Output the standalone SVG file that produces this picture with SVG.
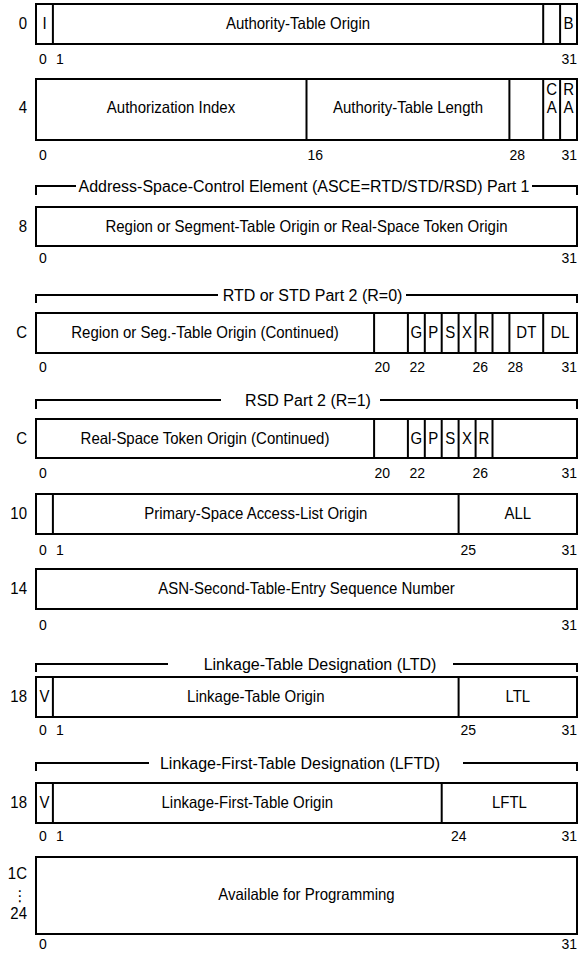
<svg xmlns="http://www.w3.org/2000/svg" width="579" height="956" viewBox="0 0 579 956">
<style>
.box{fill:#fff;stroke:#000;stroke-width:2}
.div{stroke:#000;stroke-width:2}
.br{fill:none;stroke:#000;stroke-width:2}
text{font-family:"Liberation Sans",Arial,sans-serif;fill:#000}
.f{font-size:16.3px;text-anchor:middle;transform-box:fill-box;transform-origin:50% 50%;transform:scaleX(0.92)}
.lab{font-size:16.3px;text-anchor:end;transform-box:fill-box;transform-origin:100% 50%;transform:scaleX(0.92)}
.t{font-size:16px;text-anchor:middle}
.n{font-size:14px}
.ne{font-size:14px;text-anchor:end}
.dots{font-family:"DejaVu Sans",sans-serif;font-size:15px;text-anchor:middle}
</style>
<rect width="579" height="956" fill="#fff"/>
<g id="connectors">
<path class="br" d="M36,195 V186 H76 M532,186 H577 V195"/>
<path class="br" d="M36,303 V295 H218 M406,295 H577 V303"/>
<path class="br" d="M36,409 V400 H221 M380,400 H577 V409"/>
<path class="br" d="M36,672 V664 H168 M453,664 H577 V672"/>
<path class="br" d="M36,771 V763 H149 M463,763 H577 V771"/>
</g>
<g id="row0">
<rect class="box" x="36" y="4" width="541" height="40"/>
<path class="div" d="M52.9,4V44 M543.2,4V44 M560.1,4V44"/>
<text class="lab" x="27" y="29">0</text>
<text class="f" x="44.5" y="29">I</text>
<text class="f" x="298" y="29">Authority-Table Origin</text>
<text class="f" x="568.6" y="29">B</text>
<text class="n" x="39" y="64">0</text><text class="n" x="56" y="64">1</text><text class="ne" x="577" y="64">31</text>
</g>
<g id="row4">
<rect class="box" x="36" y="79" width="541" height="61"/>
<path class="div" d="M306.5,79V140 M509.4,79V140 M543.2,79V140 M560.1,79V140"/>
<text class="lab" x="27" y="113">4</text>
<text class="f" x="171" y="113">Authorization Index</text>
<text class="f" x="408" y="113">Authority-Table Length</text>
<text class="f" x="551.7" y="95">C</text><text class="f" x="551.7" y="113">A</text>
<text class="f" x="568.6" y="95">R</text><text class="f" x="568.6" y="113">A</text>
<text class="n" x="39" y="160">0</text><text class="n" x="307.5" y="160">16</text><text class="n" x="509.5" y="160">28</text><text class="ne" x="577" y="160">31</text>
</g>
<g id="asce">
<text class="t" x="304" y="191.5" textLength="451" lengthAdjust="spacingAndGlyphs">Address-Space-Control Element (ASCE=RTD/STD/RSD) Part 1</text>
</g>
<g id="row8">
<rect class="box" x="36" y="207" width="541" height="39"/>
<text class="lab" x="27" y="232.5">8</text>
<text class="f" x="306.5" y="232.5">Region or Segment-Table Origin or Real-Space Token Origin</text>
<text class="n" x="39" y="263">0</text><text class="ne" x="577" y="263">31</text>
</g>
<g id="rtd">
<text class="t" x="312.5" y="300.5">RTD or STD Part 2 (R=0)</text>
</g>
<g id="rowC1">
<rect class="box" x="36" y="313" width="541" height="40"/>
<path class="div" d="M374.1,313V353 M407.9,313V353 M424.8,313V353 M441.7,313V353 M458.6,313V353 M475.6,313V353 M492.5,313V353 M509.4,313V353 M543.2,313V353"/>
<text class="lab" x="27" y="338">C</text>
<text class="f" x="205" y="338">Region or Seg.-Table Origin (Continued)</text>
<text class="f" x="416.4" y="338">G</text><text class="f" x="433.3" y="338">P</text><text class="f" x="450.2" y="338">S</text><text class="f" x="467.1" y="338">X</text><text class="f" x="484" y="338">R</text>
<text class="f" x="526.3" y="338">DT</text><text class="f" x="560.1" y="338">DL</text>
<text class="n" x="39" y="372">0</text><text class="n" x="374.5" y="372">20</text><text class="n" x="409.5" y="372">22</text><text class="n" x="472.5" y="372">26</text><text class="n" x="507.5" y="372">28</text><text class="ne" x="577" y="372">31</text>
</g>
<g id="rsd">
<text class="t" x="308" y="405.5">RSD Part 2 (R=1)</text>
</g>
<g id="rowC2">
<rect class="box" x="36" y="419" width="541" height="39"/>
<path class="div" d="M374.1,419V458 M407.9,419V458 M424.8,419V458 M441.7,419V458 M458.6,419V458 M475.6,419V458 M492.5,419V458"/>
<text class="lab" x="27" y="444">C</text>
<text class="f" x="205" y="444">Real-Space Token Origin (Continued)</text>
<text class="f" x="416.4" y="444">G</text><text class="f" x="433.3" y="444">P</text><text class="f" x="450.2" y="444">S</text><text class="f" x="467.1" y="444">X</text><text class="f" x="484" y="444">R</text>
<text class="n" x="39" y="478">0</text><text class="n" x="374.5" y="478">20</text><text class="n" x="409.5" y="478">22</text><text class="n" x="472.5" y="478">26</text><text class="ne" x="577" y="478">31</text>
</g>
<g id="row10">
<rect class="box" x="36" y="494" width="541" height="40"/>
<path class="div" d="M52.9,494V534 M458.6,494V534"/>
<text class="lab" x="27" y="519.5">10</text>
<text class="f" x="255.8" y="519.5">Primary-Space Access-List Origin</text>
<text class="f" x="517.8" y="519.5">ALL</text>
<text class="n" x="39" y="555">0</text><text class="n" x="56" y="555">1</text><text class="n" x="460.5" y="555">25</text><text class="ne" x="577" y="555">31</text>
</g>
<g id="row14">
<rect class="box" x="36" y="569" width="541" height="40"/>
<text class="lab" x="27" y="594.5">14</text>
<text class="f" x="306.5" y="594.5">ASN-Second-Table-Entry Sequence Number</text>
<text class="n" x="39" y="630">0</text><text class="ne" x="577" y="630">31</text>
</g>
<g id="ltd">
<text class="t" x="320" y="669.5">Linkage-Table Designation (LTD)</text>
</g>
<g id="row18a">
<rect class="box" x="36" y="677" width="541" height="40"/>
<path class="div" d="M52.9,677V717 M458.6,677V717"/>
<text class="lab" x="27" y="702.5">18</text>
<text class="f" x="44.5" y="702.5">V</text>
<text class="f" x="255.8" y="702.5">Linkage-Table Origin</text>
<text class="f" x="517.8" y="702.5">LTL</text>
<text class="n" x="39" y="735">0</text><text class="n" x="56" y="735">1</text><text class="n" x="460.5" y="735">25</text><text class="ne" x="577" y="735">31</text>
</g>
<g id="lftd">
<text class="t" x="300" y="768.5">Linkage-First-Table Designation (LFTD)</text>
</g>
<g id="row18b">
<rect class="box" x="36" y="783" width="541" height="40"/>
<path class="div" d="M52.9,783V823 M441.7,783V823"/>
<text class="lab" x="27" y="808.5">18</text>
<text class="f" x="44.5" y="808.5">V</text>
<text class="f" x="247.3" y="808.5">Linkage-First-Table Origin</text>
<text class="f" x="509.4" y="808.5">LFTL</text>
<text class="n" x="39" y="841">0</text><text class="n" x="56" y="841">1</text><text class="n" x="451" y="841">24</text><text class="ne" x="577" y="841">31</text>
</g>
<g id="row1C">
<rect class="box" x="36" y="857" width="541" height="77"/>
<text class="lab" x="27" y="879">1C</text>
<text class="dots" x="20" y="901">⋮</text>
<text class="lab" x="27" y="919">24</text>
<text class="f" x="306.5" y="900">Available for Programming</text>
<text class="n" x="39" y="949">0</text><text class="ne" x="577" y="949">31</text>
</g>
</svg>
